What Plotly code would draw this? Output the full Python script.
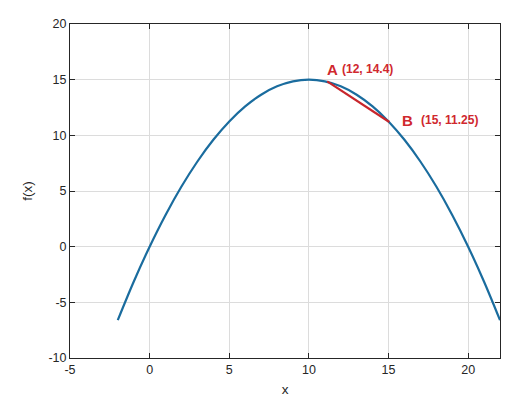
import plotly.graph_objects as go

# curve values
x_vals = [-2, -1, 0, 1, 2, 3, 4, 5, 6, 7, 8, 9, 10, 11, 12, 13, 14, 15, 16, 17, 18, 19, 20, 21, 22]
f_vals = [-6.6, -3.15, 0, 2.85, 5.4, 7.65, 9.6, 11.25, 12.6, 13.65, 14.4, 14.85, 15,
          14.85, 14.4, 13.65, 12.6, 11.25, 9.6, 7.65, 5.4, 2.85, 0, -3.15, -6.6]

# chord as drawn
chord_x = [11.15, 15.05]
chord_y = [14.85, 11.2]

x_ticks = [-5, 0, 5, 10, 15, 20]
x_labels = ["-5", "0", "5", "10", "15", "20"]
y_ticks = [-10, -5, 0, 5, 10, 15, 20]
y_labels = ["-10", "-5", "0", "5", "10", "15", "20"]

label_A = "(12, 14.4)"
label_B = "(15, 11.25)"

blue = "#1a6c9e"
red = "#c8262c"
txt_red = "#d0282e"
ink = "#262626"

fig = go.Figure()
fig.add_trace(go.Scatter(x=x_vals, y=f_vals, mode="lines", line_shape="spline",
                         line=dict(color=blue, width=2.2), showlegend=False, hoverinfo="skip"))
fig.add_trace(go.Scatter(x=chord_x, y=chord_y, mode="lines",
                         line=dict(color=red, width=2.2), showlegend=False, hoverinfo="skip"))

fam = "Liberation Sans, Arial, sans-serif"
font_big = dict(family=fam, size=15, color=txt_red)
font_small = dict(family=fam, size=12, color=txt_red)
ann = [
    dict(x=11.0, y=15.9, text="<b>A</b>", font=font_big),
    dict(x=11.95, y=15.95, text="<b>" + label_A + "</b>", font=font_small),
    dict(x=15.7, y=11.3, text="<b>B</b>", font=font_big),
    dict(x=16.9, y=11.35, text="<b>" + label_B + "</b>", font=font_small),
]
for a in ann:
    a.update(xref="x", yref="y", xanchor="left", yanchor="middle", showarrow=False)

axis_common = dict(showline=True, linecolor=ink, linewidth=1, mirror="ticks",
                   ticks="inside", ticklen=5, tickcolor=ink, tickwidth=1,
                   showgrid=True, gridcolor="#dcdcdc", gridwidth=1, zeroline=False,
                   tickfont=dict(family=fam, size=12.5, color=ink),
                   title_font=dict(family=fam, size=13.5, color=ink))

fig.update_layout(
    width=527, height=413,
    margin=dict(l=62, r=35, t=9, b=63),
    paper_bgcolor="white", plot_bgcolor="white",
    annotations=ann,
    xaxis=dict(range=[-5, 22], tickvals=x_ticks, ticktext=x_labels,
               title=dict(text="x", standoff=8), **axis_common),
    yaxis=dict(range=[-10, 20], tickvals=y_ticks, ticktext=y_labels,
               title=dict(text="f(x)", standoff=12), **axis_common),
)

fig.write_html("out.html")
